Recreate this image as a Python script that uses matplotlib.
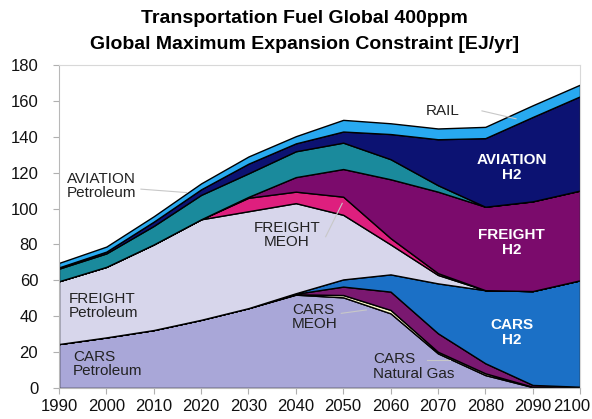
import matplotlib
matplotlib.use("Agg")
import matplotlib.pyplot as plt
import matplotlib.transforms as mtransforms
import numpy as np

plt.rcParams['font.family'] = ['Liberation Sans', 'DejaVu Sans']

years = [1990, 2000, 2010, 2020, 2030, 2040, 2050, 2060, 2070, 2080, 2090, 2100]

# layer thickness in EJ/yr, bottom to top
cars_petroleum = [24.5, 28.2, 32.3, 38.0, 44.5, 52.0, 50.5, 41.6, 19.3, 7.2, 0.5, 0.0]
cars_natgas    = [0, 0, 0, 0, 0, 0.2, 1.3, 1.9, 0.9, 1.0, 0.2, 0]
cars_meoh      = [0, 0, 0, 0, 0, 0.3, 4.7, 10.2, 10.3, 5.6, 1.0, 0.7]
cars_h2        = [0, 0, 0, 0, 0, 0.3, 4.0, 9.6, 27.8, 40.7, 52.3, 59.3]
freight_petroleum = [35.0, 39.3, 47.7, 56.0, 54.0, 50.2, 36.0, 16.7, 4.7, 0, 0, 0]
freight_meoh   = [0, 0, 0, 0, 7.5, 6.4, 10.1, 3.5, 1.0, 0, 0, 0]
freight_h2     = [0, 0, 0, 0, 0.5, 8.1, 15.4, 32.8, 45.4, 46.5, 50.0, 50.0]
aviation_petroleum = [7.0, 7.5, 10.3, 13.6, 13.1, 14.4, 14.7, 11.2, 3.6, 0, 0, 0]
aviation_h2    = [0.7, 1.0, 2.4, 3.1, 5.4, 4.4, 6.2, 14.0, 25.6, 38.2, 47.0, 52.5]
rail           = [2.5, 2.8, 3.0, 3.3, 4.0, 4.0, 6.5, 6.0, 6.0, 6.3, 6.5, 6.5]

layers = [cars_petroleum, cars_natgas, cars_meoh, cars_h2, freight_petroleum,
          freight_meoh, freight_h2, aviation_petroleum, aviation_h2, rail]
colors = ['#a9a7d8', '#fbfbc8', '#7a1870', '#1b70c6', '#d7d6eb',
          '#de1f7e', '#7b0b6c', '#1a8a9c', '#0c1272', '#28a9f0']

fig = plt.figure(figsize=(5.92, 4.19), dpi=100)
ax = fig.add_axes([0.0997, 0.074, 0.88, 0.771])

ax.stackplot(years, *layers, colors=colors, edgecolor='black', linewidth=1.0)

ax.set_xlim(1990, 2100)
ax.set_ylim(0, 180)
ax.set_xticks(years)
ax.set_yticks(range(0, 181, 20))
ax.tick_params(axis='both', labelsize=12, color='#b0b0b0', length=4, labelcolor='#111111')
ax.tick_params(axis='y', pad=11)
ax.tick_params(axis='x', pad=4)
for s in ax.spines.values():
    s.set_color('#d8d8d8')
    s.set_linewidth(0.8)
ax.spines['left'].set_color('#b8b8b8')
ax.spines['bottom'].set_color('#b8b8b8')

# the last year label sits a little left so it stays inside the picture
last = ax.get_xticklabels()[-1]
last.set_transform(last.get_transform() + mtransforms.ScaledTranslation(-6 / 72, 0, fig.dpi_scale_trans))

fig.text(0.514, 0.957, "Transportation Fuel Global 400ppm", ha='center', va='center',
         fontsize=14, fontweight='bold')
fig.text(0.514, 0.893, "Global Maximum Expansion Constraint [EJ/yr]", ha='center', va='center',
         fontsize=14, fontweight='bold')

lbl = dict(fontsize=11, color='#222222', linespacing=1.05)
ax.text(1991.7, 112.6, "AVIATION\nPetroleum", ha='left', va='center', **lbl)
ax.plot([2007.3, 2016.9], [110.8, 108.9], color='#c8c8c8', lw=0.8)
ax.text(2038.1, 85.3, "FREIGHT\nMEOH", ha='center', va='center', **lbl)
ax.plot([2046.3, 2049.8], [84.3, 102.9], color='#c8c8c8', lw=0.8)
ax.text(1992.1, 45.7, "FREIGHT\nPetroleum", ha='left', va='center', **lbl)
ax.text(1992.9, 13.4, "CARS\nPetroleum", ha='left', va='center', **lbl)
ax.text(2039.2, 39.6, "CARS\nMEOH", ha='left', va='center', **lbl)
ax.plot([2049.6, 2054.9], [41.6, 43.5], color='#c8c8c8', lw=0.8)
ax.text(2056.3, 12.0, "CARS\nNatural Gas", ha='left', va='center', **lbl)
ax.plot([2067.6, 2072.5], [15.6, 15.6], color='#c8c8c8', lw=0.8)
ax.text(2071.0, 154.4, "RAIL", ha='center', va='center', **lbl)
ax.plot([2079.3, 2086.5], [154.4, 150.0], color='#c8c8c8', lw=0.8)

wl = dict(fontsize=11, color='white', fontweight='bold', ha='center', va='center', linespacing=1.05)
ax.text(2085.6, 122.9, "AVIATION\nH2", **wl)
ax.text(2085.6, 81.1, "FREIGHT\nH2", **wl)
ax.text(2085.6, 30.9, "CARS\nH2", **wl)

fig.savefig("out.png", dpi=100)
